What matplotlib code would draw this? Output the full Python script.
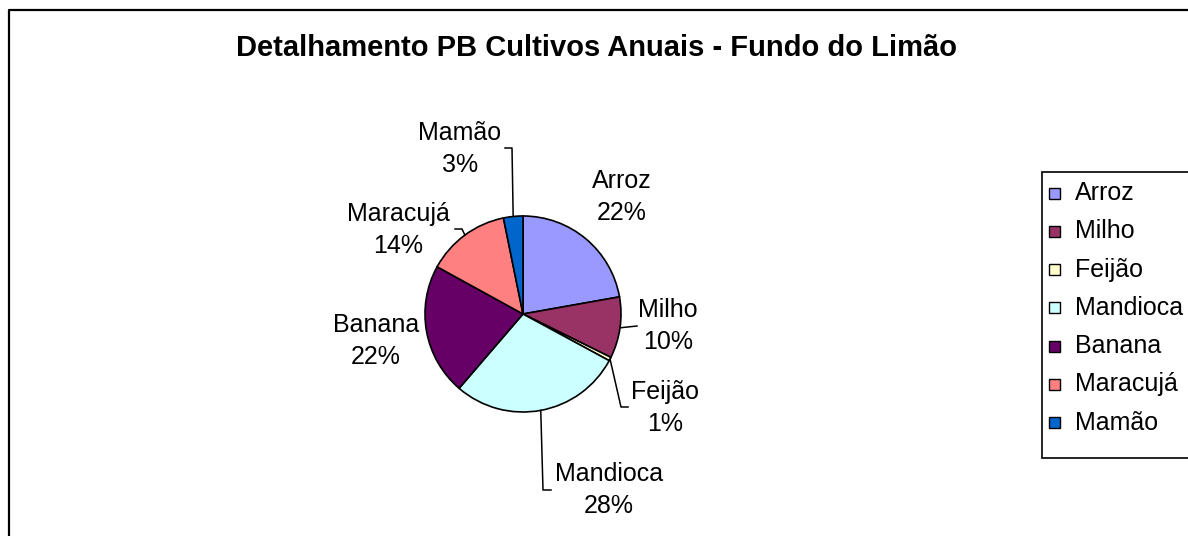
import numpy as np
import matplotlib
matplotlib.use("Agg")
import matplotlib.pyplot as plt
from matplotlib.patches import Rectangle

plt.rcParams["font.family"] = ["Liberation Sans", "DejaVu Sans"]

# data (shares in %)
crops = ["Arroz", "Milho", "Feijão", "Mandioca", "Banana", "Maracujá", "Mamão"]
shares = [22.2, 10.1, 0.6, 28.4, 21.7, 13.8, 3.2]
colors = ["#9999FF", "#993366", "#FFFFCC", "#CCFFFF", "#660066", "#FF8080", "#0066CC"]
title = "Detalhamento PB Cultivos Anuais - Fundo do Limão"

# layout in pixel coordinates (y downward)
W, H = 1188, 536
center = (523, 314)
radius = 98
label_pos = {
    "Arroz": (622, 197),
    "Milho": (668, 326),
    "Feijão": (665, 408),
    "Mandioca": (609, 490),
    "Banana": (376, 341),
    "Maracujá": (398, 230),
    "Mamão": (460, 149),
}
leaders = {
    "Mamão": [(512, 148), (505, 148)],
    "Maracujá": [(462, 229), (455, 229)],
    "Milho": [(637, 326)],
    "Feijão": [(621, 407), (628, 407)],
    "Mandioca": [(543, 490), (551, 490)],
}

fig = plt.figure(figsize=(W / 100, H / 100), dpi=100)
ax = fig.add_axes([0, 0, 1, 1])

# y axis inverted, so counterclock in data = clockwise on screen
wedges, _ = ax.pie(
    shares,
    colors=colors,
    startangle=-90,
    counterclock=True,
    center=center,
    radius=radius,
    wedgeprops=dict(edgecolor="black", linewidth=1.2),
)
ax.set_xlim(0, W)
ax.set_ylim(H, 0)
ax.set_aspect("auto")
ax.axis("off")

total = sum(shares)
for w, name, val in zip(wedges, crops, shares):
    tx, ty = label_pos[name]
    ax.text(tx, ty, f"{name}\n{val / total * 100:.0f}%", ha="center", va="center",
            fontsize=18, linespacing=1.45, multialignment="center")
    if name in leaders:
        mid = np.deg2rad((w.theta1 + w.theta2) / 2)
        sx = center[0] + radius * np.cos(mid)
        sy = center[1] + radius * np.sin(mid)
        pts = [(sx, sy)] + leaders[name]
        xs, ys = zip(*pts)
        ax.plot(xs, ys, color="black", lw=1.1)

ax.text(596, 56, title, ha="center", va="baseline", fontsize=21, fontweight="bold")

# legend box (runs off the right edge like the original)
ax.add_patch(Rectangle((1042, 172), 200, 286, facecolor="white", edgecolor="black",
                       lw=1.2, clip_on=False))
for i, (name, c) in enumerate(zip(crops, colors)):
    y = 193 + i * 38.3
    ax.add_patch(Rectangle((1049, y - 5.5), 11, 11, facecolor=c, edgecolor="black", lw=1.0))
    ax.text(1075, y, name, ha="left", va="center", fontsize=18)

# outer chart border
ax.plot([8.5, 8.5, W + 5], [H + 5, 9.5, 9.5], color="black", lw=1.6, clip_on=False)

fig.savefig("out.png", dpi=100)
